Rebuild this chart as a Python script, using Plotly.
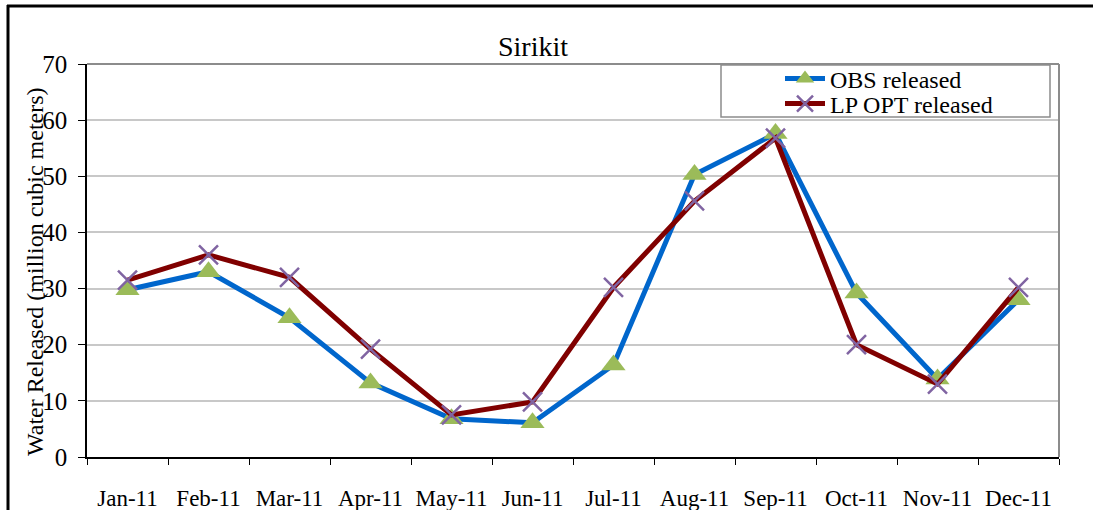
import plotly.graph_objects as go

months = ["Jan-11", "Feb-11", "Mar-11", "Apr-11", "May-11", "Jun-11",
          "Jul-11", "Aug-11", "Sep-11", "Oct-11", "Nov-11", "Dec-11"]
obs_released = [29.8, 33.0, 24.8, 13.2, 6.8, 6.1, 16.4, 50.3, 57.6, 29.2, 13.9, 28.0]
lp_opt_released = [31.5, 36.0, 32.0, 19.2, 7.5, 9.8, 30.2, 45.6, 56.8, 20.0, 13.0, 30.2]

W, H = 1093, 510
L, R, T, B = 87, 1059, 64, 457

def px_x(p):
    return (p - L) / (R - L)

def px_y(p):
    return (B - p) / (B - T)

FONT = "Liberation Serif"

fig = go.Figure()
fig.add_trace(go.Scatter(
    x=months, y=obs_released, name="OBS released", mode="lines+markers",
    line=dict(color="#0066CC", width=5),
    marker=dict(symbol="triangle-up", size=21, color="#9BBB59", line=dict(width=0)),
    legend="legend",
))
fig.add_trace(go.Scatter(
    x=months, y=lp_opt_released, name="LP OPT released", mode="lines+markers",
    line=dict(color="#800000", width=5),
    marker=dict(symbol="x-thin-open", size=19, color="#8064A2", line=dict(width=2.5, color="#8064A2")),
    legend="legend2",
))

shapes = [
    # outer frame (top and left)
    dict(type="line", xref="paper", yref="paper", x0=px_x(7), x1=px_x(W + 5), y0=px_y(6), y1=px_y(6),
         line=dict(color="black", width=3)),
    dict(type="line", xref="paper", yref="paper", x0=px_x(8), x1=px_x(8), y0=px_y(5), y1=px_y(H + 5),
         line=dict(color="black", width=3)),
    # plot area top and right borders
    dict(type="line", xref="paper", yref="paper", x0=0, x1=1, y0=1, y1=1,
         line=dict(color="#8C8C8C", width=2)),
    dict(type="line", xref="paper", yref="paper", x0=1, x1=1, y0=0, y1=1,
         line=dict(color="#8C8C8C", width=2)),
    # legend box
    dict(type="rect", xref="paper", yref="paper", x0=px_x(721), x1=px_x(1050), y0=px_y(117), y1=px_y(65),
         line=dict(color="#8C8C8C", width=1.5), fillcolor="white", layer="below"),
]

legend_common = dict(xanchor="left", yanchor="middle", bgcolor="rgba(0,0,0,0)", borderwidth=0,
                     font=dict(size=24, family=FONT, color="black"), itemwidth=40)

fig.update_layout(
    width=W, height=H,
    margin=dict(l=L, r=W - R, t=T, b=H - B, autoexpand=False),
    paper_bgcolor="white", plot_bgcolor="white",
    font=dict(family=FONT, color="black", size=23),
    title=dict(text="Sirikit", x=px_x(561), xanchor="center", y=1 - 46 / H, yanchor="middle",
               font=dict(size=28, family=FONT)),
    showlegend=True,
    legend=dict(x=px_x(780), y=px_y(79), **legend_common),
    legend2=dict(x=px_x(780), y=px_y(104), **legend_common),
    shapes=shapes,
    annotations=[dict(text="Water Released (million cubic meters)", textangle=-90,
                      xref="paper", yref="paper", x=px_x(35), y=px_y(272),
                      xanchor="center", yanchor="middle", showarrow=False,
                      font=dict(size=24, family=FONT))],
)
fig.update_xaxes(
    type="category", tickson="boundaries", ticks="outside", ticklen=6, tickcolor="black",
    showline=True, linecolor="black", linewidth=1.5, showgrid=False,
    tickfont=dict(size=23, family=FONT), ticklabelstandoff=20,
    range=[-0.5, 11.5], automargin=False,
)
fig.update_yaxes(
    range=[0, 70], dtick=10, ticks="outside", ticklen=7, tickcolor="black",
    showline=True, linecolor="black", linewidth=1.5,
    showgrid=True, gridcolor="#C8C8C8", gridwidth=1.5, zeroline=False,
    tickfont=dict(size=25, family=FONT), ticklabelstandoff=6, automargin=False,
)

fig.write_html("out.html", config={"displayModeBar": False},
               post_script="document.body.style.margin='0px';")
